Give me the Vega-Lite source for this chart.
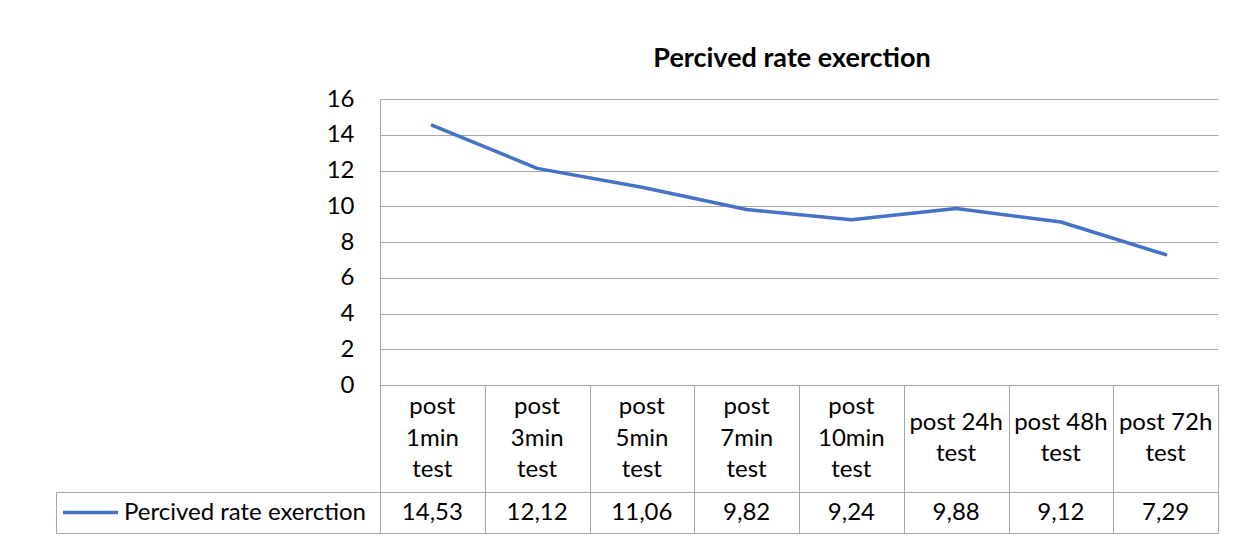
{
  "$schema": "https://vega.github.io/schema/vega-lite/v6.json",
  "padding": {"left": 55, "top": 45, "right": 16, "bottom": 8},
  "background": "white",
  "config": {
    "font": "Lato",
    "locale": {"number": {"decimal": ",", "thousands": ".", "grouping": [3], "currency": ["", " €"]}},
    "view": {"stroke": "#A6A6A6"},
    "axis": {"labelFont": "Lato", "labelFontSize": 24, "labelColor": "#000000", "domainColor": "#A6A6A6", "gridColor": "#A6A6A6", "tickColor": "#A6A6A6"}
  },
  "datasets": {
    "rpe": [
      {"test": "post 1min test", "header": ["post", "1min", "test"], "series": "Percived rate exerction", "value": 14.53},
      {"test": "post 3min test", "header": ["post", "3min", "test"], "series": "Percived rate exerction", "value": 12.12},
      {"test": "post 5min test", "header": ["post", "5min", "test"], "series": "Percived rate exerction", "value": 11.06},
      {"test": "post 7min test", "header": ["post", "7min", "test"], "series": "Percived rate exerction", "value": 9.82},
      {"test": "post 10min test", "header": ["post", "10min", "test"], "series": "Percived rate exerction", "value": 9.24},
      {"test": "post 24h test", "header": ["post 24h", "test"], "series": "Percived rate exerction", "value": 9.88},
      {"test": "post 48h test", "header": ["post 48h", "test"], "series": "Percived rate exerction", "value": 9.12},
      {"test": "post 72h test", "header": ["post 72h", "test"], "series": "Percived rate exerction", "value": 7.29}
    ]
  },
  "bounds": "flush",
  "spacing": 0,
  "vconcat": [
    {
      "width": 838,
      "height": 286,
      "view": {"stroke": null},
      "title": {"text": "Percived rate exerction", "fontSize": 27, "font": "Lato", "fontWeight": "bold", "color": "#000000", "anchor": "middle", "offset": 14, "dx": -7},
      "data": {"name": "rpe"},
      "mark": {"type": "line", "strokeWidth": 3.5, "strokeCap": "round", "strokeJoin": "round"},
      "encoding": {
        "x": {"field": "test", "type": "nominal", "sort": null, "scale": {"type": "point", "padding": 0.5}, "axis": null},
        "y": {"field": "value", "type": "quantitative", "scale": {"domain": [0, 16], "nice": false},
          "axis": {"values": [0, 2, 4, 6, 8, 10, 12, 14, 16], "title": null, "ticks": false, "labelPadding": 26, "grid": true, "domain": true}},
        "color": {"field": "series", "type": "nominal", "scale": {"range": ["#4472C4"]},
          "legend": {"orient": "none", "legendX": -319, "legendY": 384, "title": null, "symbolType": "stroke", "symbolSize": 3025, "symbolStrokeWidth": 3.5, "labelFont": "Lato", "labelFontSize": 24, "labelColor": "#000000", "labelOffset": 4, "labelLimit": 0, "padding": 0}}
      }
    },
    {
      "width": 838,
      "height": 107,
      "data": {"name": "rpe"},
      "encoding": {
        "x": {"field": "test", "type": "nominal", "sort": null, "scale": {"type": "band", "paddingInner": 0, "paddingOuter": 0},
          "axis": {"title": null, "labels": false, "ticks": false, "domain": false, "grid": true, "tickBand": "extent", "orient": "top"}},
        "text": {"field": "header"}
      },
      "layer": [
        {
          "transform": [{"filter": "length(datum.header) == 3"}],
          "mark": {"type": "text", "fontSize": 24, "lineHeight": 31.5, "baseline": "middle", "align": "center", "color": "#000000", "dy": -31.5}
        },
        {
          "transform": [{"filter": "length(datum.header) == 2"}],
          "mark": {"type": "text", "fontSize": 24, "lineHeight": 31.5, "baseline": "middle", "align": "center", "color": "#000000", "dy": -15.75}
        }
      ]
    },
    {
      "width": 838,
      "height": 41,
      "data": {"name": "rpe"},
      "mark": {"type": "text", "fontSize": 24, "baseline": "middle", "align": "center", "color": "#000000"},
      "encoding": {
        "x": {"field": "test", "type": "nominal", "sort": null, "scale": {"type": "band", "paddingInner": 0, "paddingOuter": 0},
          "axis": {"title": null, "labels": false, "ticks": false, "domain": false, "grid": true, "tickBand": "extent", "orient": "top"}},
        "y": {"field": "series", "type": "nominal", "scale": {"type": "band", "paddingInner": 0, "paddingOuter": 0},
          "axis": {"title": null, "orient": "left", "offset": 324, "tickSize": -324, "tickBand": "extent", "labels": false, "domain": true, "ticks": true, "grid": false}},
        "text": {"field": "value", "type": "quantitative", "format": ".2f"}
      }
    }
  ],
  "resolve": {"scale": {"x": "independent", "y": "independent"}, "legend": {"color": "independent"}}
}
